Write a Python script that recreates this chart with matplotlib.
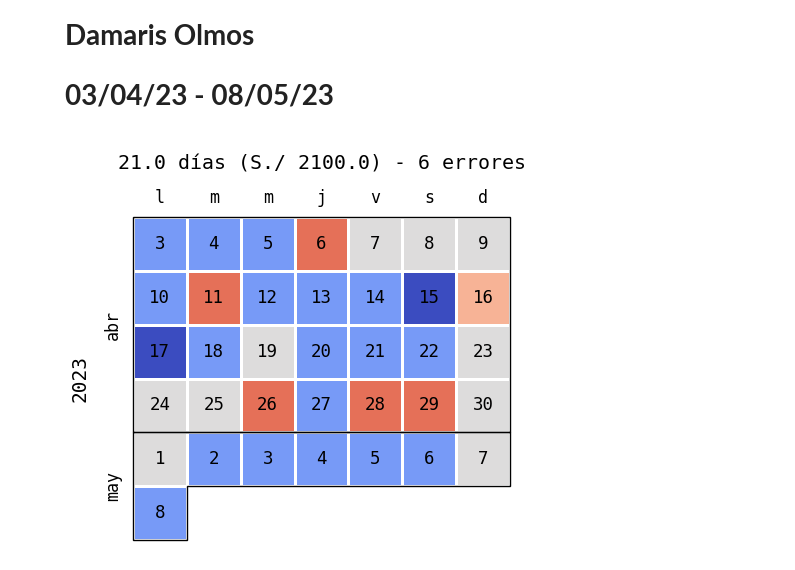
import datetime as dt
import numpy as np
import matplotlib.pyplot as plt
from matplotlib.patches import Polygon

# Calendar from Monday 03/04/23 to Monday 08/05/23
start = dt.date(2023, 4, 3)
end = dt.date(2023, 5, 8)

# colour position on coolwarm for every day
day_values = [
    0.19, 0.19, 0.19, 0.84, 0.5, 0.5, 0.5,    # 3-9 abr
    0.19, 0.84, 0.19, 0.19, 0.19, 0.0, 0.68,  # 10-16 abr
    0.0, 0.19, 0.5, 0.19, 0.19, 0.19, 0.5,    # 17-23 abr
    0.5, 0.5, 0.84, 0.19, 0.84, 0.84, 0.5,    # 24-30 abr
    0.5, 0.19, 0.19, 0.19, 0.19, 0.19, 0.5,   # 1-7 may
    0.19,                                     # 8 may
]
weekdays = ["l", "m", "m", "j", "v", "s", "d"]
month_names = {4: "abr", 5: "may"}
title = "Damaris Olmos"
period = "03/04/23 - 08/05/23"
subtitle = "21.0 días (S./ 2100.0) - 6 errores"

dates = [start + dt.timedelta(days=i) for i in range((end - start).days + 1)]
n_rows = (len(dates) + 6) // 7

grid = np.full((n_rows, 7), np.nan)
for i, v in enumerate(day_values):
    grid[i // 7, i % 7] = v
grid = np.ma.masked_invalid(grid)

fig = plt.figure(figsize=(7.95, 5.7), dpi=100)
ax = fig.add_axes([133 / 795, 1 - 540 / 570, 377 / 795, 323 / 570])

ax.pcolormesh(grid, cmap="coolwarm", vmin=0, vmax=1,
              edgecolors="white", linewidth=2)
ax.set_xlim(0, 7)
ax.set_ylim(n_rows, 0)
ax.axis("off")

mono = "DejaVu Sans Mono"
for i, d in enumerate(dates):
    ax.text(i % 7 + 0.5, i // 7 + 0.5, str(d.day), ha="center", va="center",
            fontsize=12.5, family=mono)

for j, w in enumerate(weekdays):
    ax.text(j + 0.5, -0.35, w, ha="center", va="center", fontsize=12,
            family=mono, clip_on=False)

ax.text(3.5, -0.98, subtitle, ha="center", va="center", fontsize=14.3,
        family=mono, clip_on=False)

# month outlines and labels
for m in sorted(month_names):
    idx = [i for i, d in enumerate(dates) if d.month == m]
    r0, c0 = divmod(idx[0], 7)
    r1, c1 = divmod(idx[-1], 7)
    pts = [(c0, r0), (7, r0), (7, r1), (c1 + 1, r1), (c1 + 1, r1 + 1),
           (0, r1 + 1), (0, r0 + 1 if c0 else r0), (c0, r0 + 1 if c0 else r0)]
    ax.add_patch(Polygon(pts, closed=True, fill=False, edgecolor="black",
                         linewidth=1, clip_on=False))
    ax.text(-0.37, (r0 + r1 + 1) / 2, month_names[m], ha="center",
            va="center", rotation=90, fontsize=12, family=mono, clip_on=False)

ax.text(-0.98, n_rows / 2, "2023", ha="center", va="center", rotation=90,
        fontsize=14, family=mono, clip_on=False)

fig.text(65 / 795, 1 - 45 / 570, title, fontsize=20, fontweight="bold",
         family="Lato", color="#222222", va="baseline")
fig.text(65 / 795, 1 - 104 / 570, period, fontsize=20, fontweight="bold",
         family="Lato", color="#222222", va="baseline")

fig.savefig("out.png", dpi=100)
